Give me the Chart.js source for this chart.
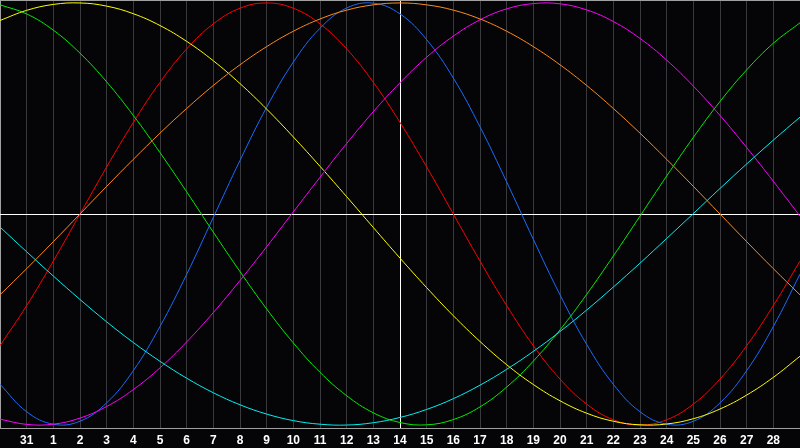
<!DOCTYPE html>
<html>
<head>
<meta charset="utf-8">
<script src="https://cdn.jsdelivr.net/npm/chart.js@4"></script>
<style>
  html, body { margin: 0; padding: 0; background: #050508; }
  canvas { display: block; }
</style>
</head>
<body>
<canvas id="bio" width="800" height="448"></canvas>
<script>
// day labels along the bottom (first and last sit on the chart edges)
const days = ['30', '31', '1', '2', '3', '4', '5', '6', '7', '8', '9', '10', '11', '12', '13',
  '14', '15', '16', '17', '18', '19', '20', '21', '22', '23', '24', '25', '26', '27', '28', '29'];
const todayIndex = 15;

// values, one per day, -1 .. 1
const red = [-0.624, -0.434, -0.223, 0, 0.223, 0.434, 0.624, 0.782, 0.901, 0.975, 1, 0.975, 0.901, 0.782,
  0.624, 0.434, 0.223, 0, -0.223, -0.434, -0.624, -0.782, -0.901, -0.975, -1, -0.975, -0.901, -0.782,
  -0.624, -0.434, -0.223];
const blue = [-0.807, -0.937, -0.996, -0.982, -0.895, -0.742, -0.533, -0.286, -0.016, 0.254, 0.506, 0.720,
  0.880, 0.976, 0.999, 0.948, 0.826, 0.644, 0.413, 0.152, -0.120, -0.383, -0.618, -0.807, -0.937, -0.996,
  -0.982, -0.895, -0.742, -0.533, -0.285];
const green = [0.991, 0.948, 0.871, 0.762, 0.626, 0.467, 0.291, 0.105, -0.086, -0.273, -0.450, -0.611,
  -0.750, -0.861, -0.942, -0.988, -0.999, -0.974, -0.914, -0.820, -0.697, -0.549, -0.381, -0.199, -0.010,
  0.180, 0.363, 0.533, 0.683, 0.809, 0.906];
const yellow = [0.917, 0.965, 0.993, 1.000, 0.985, 0.949, 0.893, 0.818, 0.726, 0.618, 0.497, 0.365, 0.226,
  0.082, -0.064, -0.209, -0.349, -0.482, -0.604, -0.714, -0.808, -0.885, -0.944, -0.982, -0.999, -0.995,
  -0.970, -0.924, -0.858, -0.774, -0.674];
const magenta = [-0.972, -0.997, -0.996, -0.967, -0.912, -0.832, -0.729, -0.606, -0.467, -0.315, -0.155,
  0.010, 0.174, 0.334, 0.485, 0.622, 0.743, 0.843, 0.920, 0.972, 0.997, 0.996, 0.967, 0.912, 0.832, 0.729,
  0.606, 0.467, 0.315, 0.155, -0.010];
const orange = [-0.383, -0.259, -0.131, 0, 0.131, 0.259, 0.383, 0.5, 0.609, 0.707, 0.793, 0.866, 0.924,
  0.966, 0.991, 1, 0.991, 0.966, 0.924, 0.866, 0.793, 0.707, 0.609, 0.5, 0.383, 0.259, 0.131, 0, -0.131,
  -0.259, -0.383];
const cyan = [-0.062, -0.179, -0.294, -0.405, -0.511, -0.609, -0.698, -0.778, -0.847, -0.904, -0.948,
  -0.979, -0.996, -1.000, -0.989, -0.964, -0.926, -0.875, -0.811, -0.736, -0.651, -0.557, -0.455, -0.346,
  -0.233, -0.116, 0.002, 0.121, 0.237, 0.350, 0.459];

const yLimit = 1.014;

function line(data, color) {
  return {
    data: data,
    borderColor: color,
    borderWidth: 1,
    pointRadius: 0,
    pointHoverRadius: 0,
    tension: 0.4,
    fill: false
  };
}

new Chart(document.getElementById('bio'), {
  type: 'line',
  data: {
    labels: days,
    datasets: [
      line(cyan, '#00f0f0'),
      line(orange, '#ff8c1a'),
      line(magenta, '#ff00ff'),
      line(yellow, '#ffff00'),
      line(green, '#00ee00'),
      line(blue, '#1a6cff'),
      line(red, '#ff0000')
    ]
  },
  options: {
    responsive: false,
    animation: false,
    layout: { padding: 0, autoPadding: false },
    plugins: {
      legend: { display: false },
      tooltip: { enabled: false }
    },
    scales: {
      x: {
        offset: false,
        grid: {
          offset: false,
          drawTicks: false,
          lineWidth: 1,
          color: ctx => {
            if (ctx.index === todayIndex) return '#ffffff';
            if (ctx.index === 0 || ctx.index === days.length - 1) return '#a0a0a0';
            return '#3a3a3e';
          }
        },
        border: { display: true, color: '#a0a0a0', width: 1 },
        ticks: {
          autoSkip: false,
          maxRotation: 0,
          padding: 5,
          color: '#ffffff',
          font: { family: 'Liberation Sans', size: 12, weight: 'bold' },
          callback: (v, i) => (i === 0 || i === days.length - 1) ? '' : days[i]
        },
        afterFit: scale => {
          scale.height = 20;
          scale.paddingLeft = 0;
          scale.paddingRight = 0;
        }
      },
      y: {
        min: -yLimit,
        max: yLimit,
        afterBuildTicks: scale => {
          scale.ticks = [{ value: -yLimit }, { value: 0 }, { value: yLimit }];
        },
        grid: {
          drawTicks: false,
          color: ctx => ctx.tick.value === 0 ? '#ffffff' : '#a0a0a0'
        },
        border: { display: false },
        ticks: { display: false },
        afterFit: scale => {
          scale.width = 0;
          scale.paddingTop = 0;
          scale.paddingBottom = 0;
        }
      }
    }
  }
});
</script>
</body>
</html>
